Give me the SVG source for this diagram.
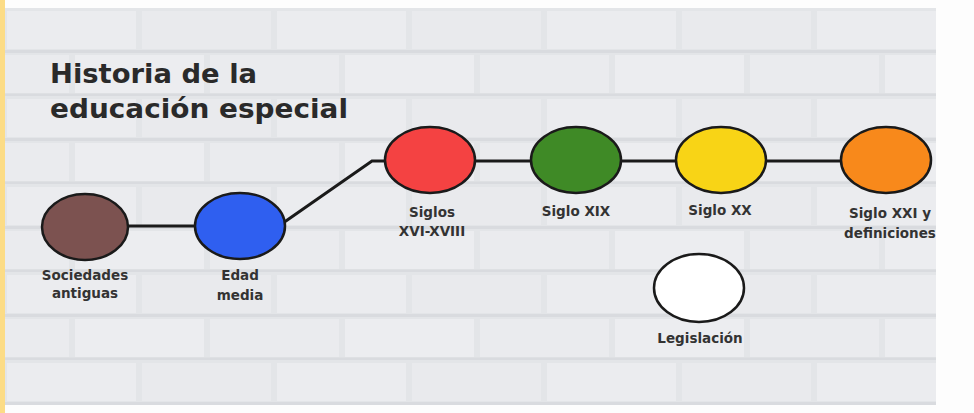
<svg xmlns="http://www.w3.org/2000/svg" width="974" height="413" viewBox="0 0 974 413">
<style>
.node{stroke:#1a1a1a;stroke-width:2.5}
.lbl{font-family:"DejaVu Sans","Open Sans",sans-serif;font-weight:bold;font-size:13.5px;fill:#333;text-anchor:middle}
.title{font-family:"DejaVu Sans","Open Sans",sans-serif;font-weight:bold;font-size:26px;fill:#2a2a2a}
.conn{stroke:#1a1a1a;stroke-width:3;fill:none}
</style>
<defs>
<pattern id="bricks" x="4" y="8" width="270" height="88" patternUnits="userSpaceOnUse">
<rect width="270" height="88" fill="#e3e5e8"/>
<rect x="3" y="3" width="129" height="38" fill="#ebecef"/>
<rect x="138" y="3" width="129" height="38" fill="#e9eaed"/>
<rect x="-64" y="47" width="129" height="38" fill="#eaebee"/>
<rect x="71" y="47" width="129" height="38" fill="#ecedf0"/>
<rect x="206" y="47" width="129" height="38" fill="#eaebee"/>
<line x1="0" y1="43.5" x2="270" y2="43.5" stroke="#d9dbdf" stroke-width="3"/>
<line x1="0" y1="87" x2="270" y2="87" stroke="#d9dbdf" stroke-width="3"/>
</pattern>
</defs>
<rect width="974" height="413" fill="#fdfdfd"/>
<rect x="4" y="8" width="932" height="397" fill="url(#bricks)"/>
<rect x="0" y="0" width="5" height="413" fill="#fcdc86"/>
<g id="title">
<text class="title" x="50" y="83" textLength="207" lengthAdjust="spacingAndGlyphs">Historia de la</text>
<text class="title" x="50" y="118" textLength="298" lengthAdjust="spacingAndGlyphs">educación especial</text>
</g>
<g id="connectors">
<line class="conn" x1="128" y1="226" x2="195" y2="226"/>
<polyline class="conn" points="283,223 372,161 386,161"/>
<line class="conn" x1="475" y1="161" x2="531" y2="161"/>
<line class="conn" x1="621" y1="161" x2="676" y2="161"/>
<line class="conn" x1="766" y1="161" x2="841" y2="161"/>
</g>
<g id="n-sociedades">
<ellipse class="node" cx="85" cy="227" rx="43" ry="33" fill="#7c5250"/>
<text class="lbl" x="85" y="280">Sociedades</text>
<text class="lbl" x="85" y="298">antiguas</text>
</g>
<g id="n-edad">
<ellipse class="node" cx="240" cy="226" rx="45" ry="33" fill="#2f5ff0"/>
<text class="lbl" x="240" y="280">Edad</text>
<text class="lbl" x="240" y="300">media</text>
</g>
<g id="n-siglos">
<ellipse class="node" cx="430" cy="160" rx="45" ry="33" fill="#f44242"/>
<text class="lbl" x="432" y="217">Siglos</text>
<text class="lbl" x="432" y="236">XVI-XVIII</text>
</g>
<g id="n-xix">
<ellipse class="node" cx="576" cy="160" rx="45" ry="33" fill="#3f8a26"/>
<text class="lbl" x="576" y="216">Siglo XIX</text>
</g>
<g id="n-xx">
<ellipse class="node" cx="721" cy="160" rx="45" ry="33" fill="#f8d416"/>
<text class="lbl" x="720" y="215">Siglo XX</text>
</g>
<g id="n-xxi">
<ellipse class="node" cx="886" cy="160" rx="45" ry="33" fill="#f8891b"/>
<text class="lbl" x="890" y="218">Siglo XXI y</text>
<text class="lbl" x="890" y="238">definiciones</text>
</g>
<g id="n-legislacion">
<ellipse class="node" cx="699" cy="288" rx="45" ry="34" fill="#ffffff"/>
<text class="lbl" x="700" y="343">Legislación</text>
</g>
</svg>
